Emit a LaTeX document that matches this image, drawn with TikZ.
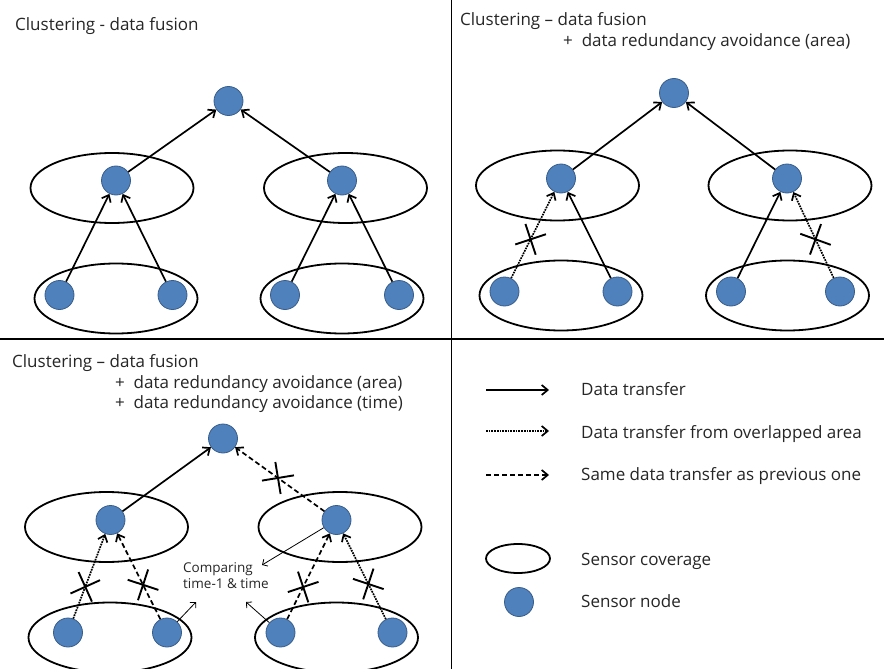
\documentclass[tikz,border=0pt]{standalone}
\usepackage{fontspec}
\setmainfont{Open Sans}
\usetikzlibrary{arrows.meta, shapes.geometric, shapes.misc}

\definecolor{nodeblue}{HTML}{4F81BD}
\definecolor{nodeedge}{HTML}{385D8A}

\begin{document}
\begin{tikzpicture}[x=1pt, y=-1pt, >={Straight Barb[length=6pt, width=10pt]},
    font=\fontsize{17}{20}\selectfont, text=black!85,
    sensor/.style={circle, draw=nodeedge, fill=nodeblue, line width=0.8pt, minimum size=29pt, inner sep=0pt},
    cover/.style={ellipse, draw, line width=1.8pt, minimum width=163pt, minimum height=70pt, inner sep=0pt},
    flow/.style={->, line width=1.7pt},
    overlapflow/.style={flow, densely dotted},
    dupflow/.style={flow, dash pattern=on 5pt off 3pt},
    cut/.style={draw, cross out, solid, -, line width=1.9pt, minimum size=21pt, inner sep=0pt, sloped},
    note/.style={-{Straight Barb[length=4pt, width=8pt]}, line width=0.8pt},
    heading/.style={anchor=base west, inner sep=0pt}]

    \path[fill=white, use as bounding box] (0,0) rectangle (884,669);
    \draw[line width=1.5pt] (0,339) -- (884,339);
    \draw[line width=1.5pt] (451.5,0) -- (451.5,669);

    % clustering only
    \node[heading] (head1) at (15,31) {Clustering - data fusion};
    \node[cover] (cov1l) at (112,188) {};
    \node[cover] (cov1r) at (345.5,188) {};
    \node[cover] (cov1bl) at (116,298.5) {};
    \node[cover] (cov1br) at (342,298.5) {};
    \node[sensor] (top1) at (228.5,101) {};
    \node[sensor] (mid1l) at (116,180.5) {};
    \node[sensor] (mid1r) at (342,180.5) {};
    \node[sensor] (bot1a) at (59.5,295) {};
    \node[sensor] (bot1b) at (172.5,295) {};
    \node[sensor] (bot1c) at (285,295) {};
    \node[sensor] (bot1d) at (399,295) {};
\path
        (bot1a) edge[flow] (mid1l)
        (bot1b) edge[flow] (mid1l)
        (bot1c) edge[flow] (mid1r)
        (bot1d) edge[flow] (mid1r)
        (mid1l) edge[flow] (top1)
        (mid1r) edge[flow] (top1)
;

    % + area
    \node[heading] (head2) at (460,26) {Clustering -- data fusion};
    \node[heading] (head2a) at (563,46.5) {+ \ data redundancy avoidance (area)};
    \node[cover] (cov2l) at (557.5,185.5) {};
    \node[cover] (cov2r) at (790,185.5) {};
    \node[cover] (cov2bl) at (561,295.5) {};
    \node[cover] (cov2br) at (787.5,295.5) {};
    \node[sensor] (top2) at (674,93) {};
    \node[sensor] (mid2l) at (561,178.5) {};
    \node[sensor] (mid2r) at (787,178.5) {};
    \node[sensor] (bot2a) at (504.5,291.5) {};
    \node[sensor] (bot2b) at (617.5,291.5) {};
    \node[sensor] (bot2c) at (731,291.5) {};
    \node[sensor] (bot2d) at (840,291.5) {};
\path
        (bot2a) edge[overlapflow] node[cut, pos=.45] {} (mid2l)
        (bot2b) edge[flow] (mid2l)
        (bot2c) edge[flow] (mid2r)
        (bot2d) edge[overlapflow] node[cut, pos=.45] {} (mid2r)
        (mid2l) edge[flow] (top2)
        (mid2r) edge[flow] (top2)
;

    % + area + time
    \node[heading] (head3) at (12,367) {Clustering -- data fusion};
    \node[heading] (head3a) at (115,388) {+ \ data redundancy avoidance (area)};
    \node[heading] (head3b) at (115,408) {+ \ data redundancy avoidance (time)};
    \node[cover] (cov3l) at (106.5,527) {};
    \node[cover] (cov3r) at (340,527) {};
    \node[cover] (cov3bl) at (110,637.5) {};
    \node[cover] (cov3br) at (336.5,637.5) {};
    \node[sensor] (top3) at (223,438.5) {};
    \node[sensor] (mid3l) at (110.5,520) {};
    \node[sensor] (mid3r) at (336.5,520) {};
    \node[sensor] (bot3a) at (68,632.5) {};
    \node[sensor] (bot3b) at (167,632.5) {};
    \node[sensor] (bot3c) at (280.5,632.5) {};
    \node[sensor] (bot3d) at (392.5,632.5) {};
\path
        (bot3a) edge[overlapflow] node[cut, pos=.375] {} (mid3l)
        (bot3b) edge[dupflow] node[cut, pos=.40] {} (mid3l)
        (bot3c) edge[dupflow] node[cut, pos=.375] {} (mid3r)
        (bot3d) edge[overlapflow] node[cut, pos=.41] {} (mid3r)
        (mid3l) edge[flow] (top3)
        (mid3r) edge[dupflow] node[cut, pos=.52] {} (top3)
;
    \node[anchor=north west, inner sep=0pt, align=left, font=\fontsize{13.5}{16}\selectfont] (cmp) at (183,562) {Comparing\\time-1 \& time};
    \coordinate (cmp1) at (262,565);
    \coordinate (cmp2) at (196,602);
    \coordinate (cmp3) at (246,602);
    \draw[note] (mid3r) -- (cmp1);
    \draw[note] (bot3b) -- (cmp2);
    \draw[note] (bot3c) -- (cmp3);

    % legend
    \coordinate (leg1a) at (486,390);
    \coordinate (leg1b) at (549,390);
    \coordinate (leg2a) at (486,431);
    \coordinate (leg2b) at (549,431);
    \coordinate (leg3a) at (486,475);
    \coordinate (leg3b) at (549,475);
    \draw[flow] (leg1a) -- (leg1b);
    \draw[overlapflow] (leg2a) -- (leg2b);
    \draw[dupflow] (leg3a) -- (leg3b);
    \node[cover, minimum width=64pt, minimum height=29pt] (legcov) at (518,558.5) {};
    \node[sensor] (legnode) at (519,602) {};
    \node[heading] (txt1) at (581,395) {Data transfer};
    \node[heading] (txt2) at (581,438) {Data transfer from overlapped area};
    \node[heading] (txt3) at (581,480) {Same data transfer as previous one};
    \node[heading] (txt4) at (581,565) {Sensor coverage};
    \node[heading] (txt5) at (581,607) {Sensor node};
\end{tikzpicture}
\end{document}
